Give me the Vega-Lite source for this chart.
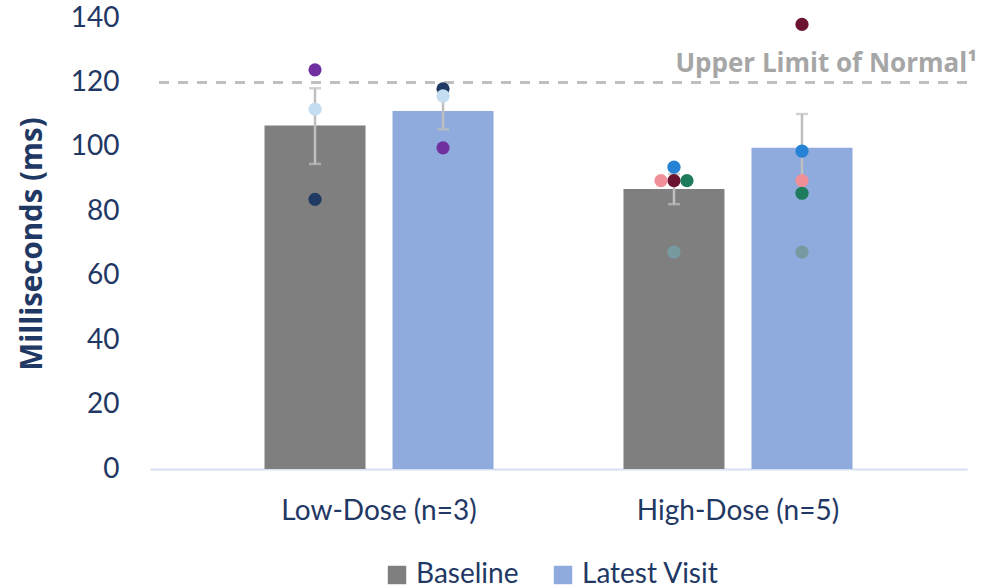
{
  "$schema": "https://vega.github.io/schema/vega-lite/v6.json",
  "width": 817,
  "height": 451,
  "autosize": "none",
  "padding": {"left": 150, "top": 18, "right": 15, "bottom": 119},
  "background": "white",
  "config": {
    "view": {"stroke": null},
    "font": "Lato",
    "axis": {"grid": false, "ticks": false, "labelFont": "Lato", "titleFont": "Open Sans", "labelColor": "#1F3864", "titleColor": "#1F3864"}
  },
  "datasets": {
    "summary": [
      {"dose": "Low-Dose (n=3)", "visit": "Baseline", "mean": 106.6, "lo": 94.7, "hi": 118.2},
      {"dose": "Low-Dose (n=3)", "visit": "Latest Visit", "mean": 111.1, "lo": 105.4, "hi": 116.8},
      {"dose": "High-Dose (n=5)", "visit": "Baseline", "mean": 86.9, "lo": 82.2, "hi": 91.6},
      {"dose": "High-Dose (n=5)", "visit": "Latest Visit", "mean": 99.7, "lo": 89.2, "hi": 110.2}
    ],
    "patients": [
      {"dose": "Low-Dose (n=3)", "patient": "L3", "visit": "Baseline", "value": 83.7},
      {"dose": "Low-Dose (n=3)", "patient": "L1", "visit": "Baseline", "value": 123.9},
      {"dose": "Low-Dose (n=3)", "patient": "L2", "visit": "Baseline", "value": 111.7},
      {"dose": "Low-Dose (n=3)", "patient": "L3", "visit": "Latest Visit", "value": 118.0},
      {"dose": "Low-Dose (n=3)", "patient": "L1", "visit": "Latest Visit", "value": 99.7},
      {"dose": "Low-Dose (n=3)", "patient": "L2", "visit": "Latest Visit", "value": 115.8},
      {"dose": "High-Dose (n=5)", "patient": "H3", "visit": "Baseline", "value": 89.5},
      {"dose": "High-Dose (n=5)", "patient": "H1", "visit": "Baseline", "value": 93.7},
      {"dose": "High-Dose (n=5)", "patient": "H2", "visit": "Baseline", "value": 89.5},
      {"dose": "High-Dose (n=5)", "patient": "H4", "visit": "Baseline", "value": 89.5},
      {"dose": "High-Dose (n=5)", "patient": "H5", "visit": "Baseline", "value": 67.3},
      {"dose": "High-Dose (n=5)", "patient": "H1", "visit": "Latest Visit", "value": 98.7},
      {"dose": "High-Dose (n=5)", "patient": "H2", "visit": "Latest Visit", "value": 89.5},
      {"dose": "High-Dose (n=5)", "patient": "H3", "visit": "Latest Visit", "value": 138.0},
      {"dose": "High-Dose (n=5)", "patient": "H4", "visit": "Latest Visit", "value": 85.6},
      {"dose": "High-Dose (n=5)", "patient": "H5", "visit": "Latest Visit", "value": 67.3}
    ],
    "reference": [
      {"label": "Upper Limit of Normal¹", "limit": 120}
    ]
  },
  "resolve": {"scale": {"color": "independent"}},
  "layer": [
    {
      "data": {"name": "summary"},
      "mark": {"type": "bar"},
      "encoding": {
        "x": {
          "field": "dose", "type": "nominal", "sort": ["Low-Dose (n=3)", "High-Dose (n=5)"], "title": null,
          "scale": {"paddingInner": 0.362, "paddingOuter": 0.319},
          "axis": {"labelAngle": 0, "labelFontSize": 28, "labelPadding": 28, "labelLimit": 400, "domainColor": "#D6E0F0", "domainWidth": 2}
        },
        "xOffset": {"field": "visit", "type": "nominal", "sort": ["Baseline", "Latest Visit"], "scale": {"paddingInner": 0.211, "paddingOuter": 0}},
        "y": {
          "field": "mean", "type": "quantitative", "title": "Milliseconds (ms)",
          "scale": {"domain": [0, 140], "nice": false},
          "axis": {"values": [0, 20, 40, 60, 80, 100, 120, 140], "domain": false, "labelFontSize": 28, "labelPadding": 31, "labelFlush": false, "labelOverlap": false, "titleFontSize": 29.5, "titleFontWeight": "bold", "titlePadding": 23}
        },
        "color": {
          "field": "visit", "type": "nominal",
          "scale": {"domain": ["Baseline", "Latest Visit"], "range": ["#7F7F7F", "#8FAADC"]},
          "legend": {
            "title": null, "orient": "none", "direction": "horizontal", "legendX": 233, "legendY": 543,
            "symbolType": "square", "symbolSize": 340, "symbolStrokeWidth": 0, "symbolOpacity": 1,
            "labelFont": "Lato", "labelFontSize": 28, "labelColor": "#1F3864", "labelOffset": 5, "columnPadding": 30, "padding": 0
          }
        }
      }
    },
    {
      "data": {"name": "summary"},
      "mark": {"type": "rule", "color": "#BFBFBF", "strokeWidth": 2.5},
      "encoding": {
        "x": {"field": "dose", "type": "nominal", "sort": ["Low-Dose (n=3)", "High-Dose (n=5)"], "title": null},
        "xOffset": {"field": "visit", "type": "nominal", "sort": ["Baseline", "Latest Visit"]},
        "y": {"field": "lo", "type": "quantitative", "title": "Milliseconds (ms)", "scale": {"domain": [0, 140], "nice": false}},
        "y2": {"field": "hi"}
      }
    },
    {
      "data": {"name": "summary"},
      "mark": {"type": "tick", "color": "#BFBFBF", "thickness": 2.5, "size": 12, "orient": "horizontal"},
      "encoding": {
        "x": {"field": "dose", "type": "nominal", "sort": ["Low-Dose (n=3)", "High-Dose (n=5)"], "title": null},
        "xOffset": {"field": "visit", "type": "nominal", "sort": ["Baseline", "Latest Visit"]},
        "y": {"field": "lo", "type": "quantitative", "title": "Milliseconds (ms)", "scale": {"domain": [0, 140], "nice": false}}
      }
    },
    {
      "data": {"name": "summary"},
      "mark": {"type": "tick", "color": "#BFBFBF", "thickness": 2.5, "size": 12, "orient": "horizontal"},
      "encoding": {
        "x": {"field": "dose", "type": "nominal", "sort": ["Low-Dose (n=3)", "High-Dose (n=5)"], "title": null},
        "xOffset": {"field": "visit", "type": "nominal", "sort": ["Baseline", "Latest Visit"]},
        "y": {"field": "hi", "type": "quantitative", "title": "Milliseconds (ms)", "scale": {"domain": [0, 140], "nice": false}}
      }
    },
    {
      "data": {"name": "reference"},
      "mark": {"type": "rule", "color": "#BFBFBF", "strokeWidth": 3, "strokeDash": [10, 9]},
      "encoding": {
        "y": {"field": "limit", "type": "quantitative", "title": "Milliseconds (ms)", "scale": {"domain": [0, 140], "nice": false}}
      }
    },
    {
      "data": {"name": "reference"},
      "mark": {"type": "text", "x": "width", "dx": 10, "dy": -10, "align": "right", "baseline": "alphabetic", "font": "Open Sans", "fontSize": 26, "fontWeight": "bold", "color": "#A6A6A6"},
      "encoding": {
        "y": {"field": "limit", "type": "quantitative", "title": "Milliseconds (ms)", "scale": {"domain": [0, 140], "nice": false}},
        "text": {"field": "label"}
      }
    },
    {
      "data": {"name": "patients"},
      "transform": [{"filter": "datum.visit === 'Baseline' && datum.patient !== 'H2' && datum.patient !== 'H4'"}],
      "mark": {"type": "circle", "size": 175, "opacity": 1},
      "encoding": {
        "x": {"field": "dose", "type": "nominal", "sort": ["Low-Dose (n=3)", "High-Dose (n=5)"], "title": null, "bandPosition": 0.2205},
        "y": {"field": "value", "type": "quantitative", "title": "Milliseconds (ms)", "scale": {"domain": [0, 140], "nice": false}},
        "color": {"field": "patient", "type": "nominal", "legend": null,
          "scale": {"domain": ["L1", "L2", "L3", "H1", "H2", "H3", "H4", "H5"], "range": ["#7030A0", "#C5DDF1", "#1F3B63", "#2682D5", "#F2909A", "#6A1432", "#1E7B5C", "#779AA1"]}}
      }
    },
    {
      "data": {"name": "patients"},
      "transform": [{"filter": "datum.visit === 'Baseline' && datum.patient === 'H2'"}],
      "mark": {"type": "circle", "size": 175, "opacity": 1, "xOffset": -13},
      "encoding": {
        "x": {"field": "dose", "type": "nominal", "sort": ["Low-Dose (n=3)", "High-Dose (n=5)"], "title": null, "bandPosition": 0.2205},
        "y": {"field": "value", "type": "quantitative", "title": "Milliseconds (ms)", "scale": {"domain": [0, 140], "nice": false}},
        "color": {"field": "patient", "type": "nominal", "legend": null,
          "scale": {"domain": ["L1", "L2", "L3", "H1", "H2", "H3", "H4", "H5"], "range": ["#7030A0", "#C5DDF1", "#1F3B63", "#2682D5", "#F2909A", "#6A1432", "#1E7B5C", "#779AA1"]}}
      }
    },
    {
      "data": {"name": "patients"},
      "transform": [{"filter": "datum.visit === 'Baseline' && datum.patient === 'H4'"}],
      "mark": {"type": "circle", "size": 175, "opacity": 1, "xOffset": 13},
      "encoding": {
        "x": {"field": "dose", "type": "nominal", "sort": ["Low-Dose (n=3)", "High-Dose (n=5)"], "title": null, "bandPosition": 0.2205},
        "y": {"field": "value", "type": "quantitative", "title": "Milliseconds (ms)", "scale": {"domain": [0, 140], "nice": false}},
        "color": {"field": "patient", "type": "nominal", "legend": null,
          "scale": {"domain": ["L1", "L2", "L3", "H1", "H2", "H3", "H4", "H5"], "range": ["#7030A0", "#C5DDF1", "#1F3B63", "#2682D5", "#F2909A", "#6A1432", "#1E7B5C", "#779AA1"]}}
      }
    },
    {
      "data": {"name": "patients"},
      "transform": [{"filter": "datum.visit === 'Latest Visit'"}],
      "mark": {"type": "circle", "size": 175, "opacity": 1},
      "encoding": {
        "x": {"field": "dose", "type": "nominal", "sort": ["Low-Dose (n=3)", "High-Dose (n=5)"], "title": null, "bandPosition": 0.7795},
        "y": {"field": "value", "type": "quantitative", "title": "Milliseconds (ms)", "scale": {"domain": [0, 140], "nice": false}},
        "color": {"field": "patient", "type": "nominal", "legend": null,
          "scale": {"domain": ["L1", "L2", "L3", "H1", "H2", "H3", "H4", "H5"], "range": ["#7030A0", "#C5DDF1", "#1F3B63", "#2682D5", "#F2909A", "#6A1432", "#1E7B5C", "#779AA1"]}}
      }
    }
  ]
}
